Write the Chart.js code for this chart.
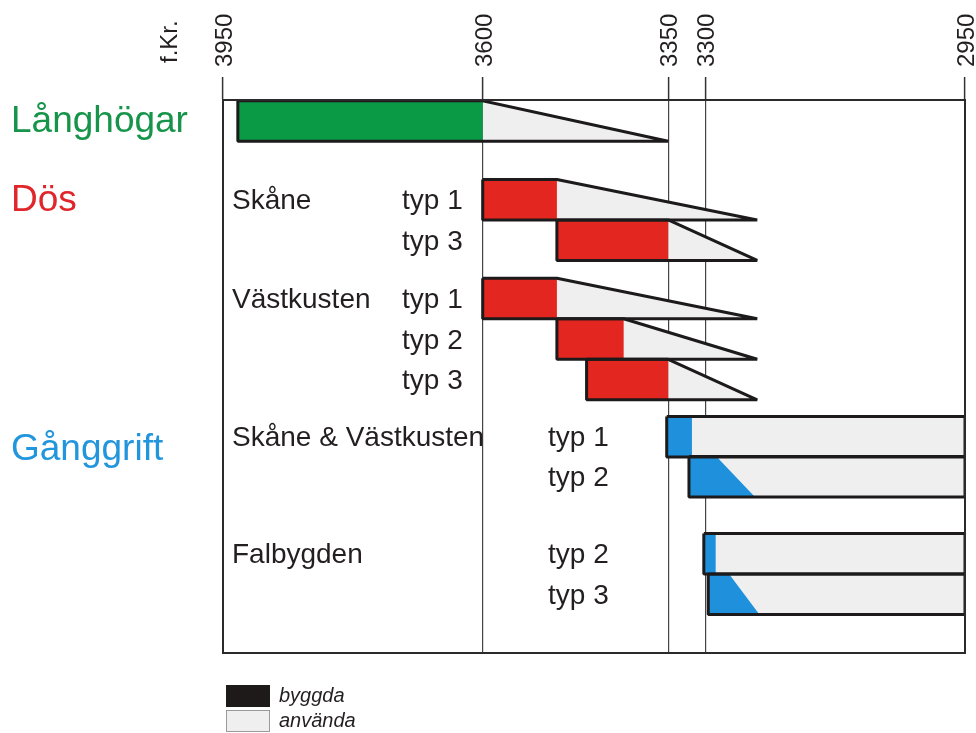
<!DOCTYPE html>
<html lang="sv">
<head>
<meta charset="utf-8">
<title>Megalitgravar</title>
<script src="https://cdn.jsdelivr.net/npm/chart.js@4/dist/chart.umd.min.js"></script>
<style>
  html, body { margin: 0; padding: 0; background: #fff; }
  #wrap { width: 976px; height: 733px; position: relative; }
</style>
</head>
<body>
<div id="wrap"><canvas id="graves"></canvas></div>
<script>
// rows, top to bottom
const rowGroups = ['', 'Skåne', '', 'Västkusten', '', '', 'Skåne & Västkusten', '', 'Falbygden', ''];
const rowTypes = ['', 'typ 1', 'typ 3', 'typ 1', 'typ 2', 'typ 3', 'typ 1', 'typ 2', 'typ 2', 'typ 3'];
const rowKind = ['lang', 'dos', 'dos', 'dos', 'dos', 'dos', 'gang', 'gang', 'gang', 'gang'];
const rowPos = [0.52, 2.46, 3.46, 4.9, 5.9, 6.9, 8.31, 9.3, 11.2, 12.2];

// years f.Kr.
const builtStart = [3930, 3600, 3500, 3600, 3500, 3460, 3352, 3322, 3302, 3296];
const builtEndTop = [3600, 3500, 3350, 3500, 3410, 3350, 3318, 3285, 3286, 3268];
const builtEndBottom = [3600, 3500, 3350, 3500, 3410, 3350, 3318, 3233, 3286, 3227];
const usedEndTop = [3600, 3500, 3350, 3500, 3410, 3350, 2950, 2950, 2950, 2950];
const usedEndBottom = [3350, 3230, 3230, 3230, 3230, 3230, 2950, 2950, 2950, 2950];

const tickYears = [3950, 3600, 3350, 3300, 2950];

const groupTitles = ['Långhögar', 'Dös', 'Gånggrift'];
const groupTitlePos = [0.52, 2.46, 8.6];

const legendNames = ['byggda', 'använda'];

const kindColor = { lang: '#0a9a45', dos: '#e3261f', gang: '#1e90dc' };
const titleColor = ['#16944a', '#e0262a', '#2296dc'];
const usedColor = '#efefef';
const edgeColor = '#1c1a1a';
const HALF = 0.5;

function poly(pts) {
  return pts.map(p => ({ x: p[0], y: p[1] }));
}

// lower order is painted last (on top)
const datasets = [];
rowPos.forEach((pos, i) => {
  const top = pos - HALF, bot = pos + HALF;
  // använda
  datasets.push({
    data: poly([[builtEndTop[i], top], [usedEndTop[i], top], [usedEndBottom[i], bot], [builtEndBottom[i], bot], [builtEndTop[i], top]]),
    backgroundColor: usedColor, borderColor: 'transparent', borderWidth: 0, fill: 'shape', order: 3
  });
  // byggda
  datasets.push({
    data: poly([[builtStart[i], top], [builtEndTop[i], top], [builtEndBottom[i], bot], [builtStart[i], bot], [builtStart[i], top]]),
    backgroundColor: kindColor[rowKind[i]], borderColor: 'transparent', borderWidth: 0, fill: 'shape', order: 2
  });
  // outline
  datasets.push({
    data: poly([[builtStart[i], top], [usedEndTop[i], top], [usedEndBottom[i], bot], [builtStart[i], bot], [builtStart[i], top]]),
    borderColor: edgeColor, borderWidth: 3, fill: false, borderJoinStyle: 'bevel', order: 1
  });
});

const sans = '"Liberation Sans", Arial, sans-serif';

// texts, frame and legend
const decor = {
  id: 'decor',
  afterDatasetsDraw(chart) {
    const { ctx, chartArea: a } = chart;
    const y = chart.scales.y;
    ctx.save();
    ctx.strokeStyle = '#2a2a2a';
    ctx.lineWidth = 2;
    ctx.strokeRect(a.left, a.top, a.right - a.left, a.bottom - a.top);

    ctx.textBaseline = 'middle';
    ctx.fillStyle = '#231f20';
    ctx.font = '28px ' + sans;
    rowPos.forEach((pos, i) => {
      const py = y.getPixelForValue(pos) + 2;
      if (rowGroups[i]) ctx.fillText(rowGroups[i], a.left + 9, py);
      if (rowTypes[i]) {
        const tx = rowKind[i] === 'gang' ? a.left + 325 : a.left + 179;
        ctx.fillText(rowTypes[i], tx, py);
      }
    });

    ctx.font = '37px ' + sans;
    groupTitles.forEach((t, i) => {
      ctx.fillStyle = titleColor[i];
      ctx.fillText(t, 11, y.getPixelForValue(groupTitlePos[i]) + 1);
    });

    // f.Kr.
    ctx.save();
    ctx.translate(170, 63);
    ctx.rotate(-Math.PI / 2);
    ctx.fillStyle = '#231f20';
    ctx.font = '24px ' + sans;
    ctx.textAlign = 'left';
    ctx.fillText('f.Kr.', 0, 0);
    ctx.restore();

    // legend
    const lx = a.left + 3, ly = a.bottom + 32;
    const swatch = ['#1f1a1a', usedColor];
    legendNames.forEach((name, i) => {
      const sy = ly + i * 25;
      ctx.fillStyle = swatch[i];
      ctx.fillRect(lx, sy, 44, 22);
      ctx.strokeStyle = i ? '#9a9a9a' : '#1f1a1a';
      ctx.lineWidth = 1;
      ctx.strokeRect(lx + 0.5, sy + 0.5, 43, 21);
      ctx.fillStyle = '#231f20';
      ctx.font = 'italic 20px ' + sans;
      ctx.fillText(name, lx + 53, sy + 11);
    });
    ctx.restore();
  }
};

new Chart(document.getElementById('graves'), {
  type: 'scatter',
  data: { datasets },
  options: {
    responsive: true,
    maintainAspectRatio: false,
    animation: false,
    showLine: true,
    elements: { point: { radius: 0, hoverRadius: 0 }, line: { tension: 0 } },
    layout: { padding: { left: 223, right: 11, top: 0, bottom: 80 } },
    plugins: { legend: { display: false }, tooltip: { enabled: false } },
    scales: {
      x: {
        type: 'linear',
        position: 'top',
        reverse: true,
        min: 2950,
        max: 3950,
        afterBuildTicks: scale => { scale.ticks = tickYears.map(v => ({ value: v })); },
        afterFit: scale => { scale.height = 100; },
        grid: { color: '#444', lineWidth: 1.2, tickLength: 23, tickColor: '#333', tickWidth: 1.5 },
        border: { display: true, color: '#2a2a2a', width: 2 },
        ticks: {
          minRotation: 90, maxRotation: 90, padding: 10,
          labelOffset: 31,
          autoSkip: false,
          color: '#231f20',
          font: { family: sans, size: 24 },
          callback: v => String(v)
        }
      },
      y: {
        type: 'linear',
        display: false,
        reverse: true,
        min: 0,
        max: 13.65
      }
    }
  },
  plugins: [decor]
});
</script>
</body>
</html>
